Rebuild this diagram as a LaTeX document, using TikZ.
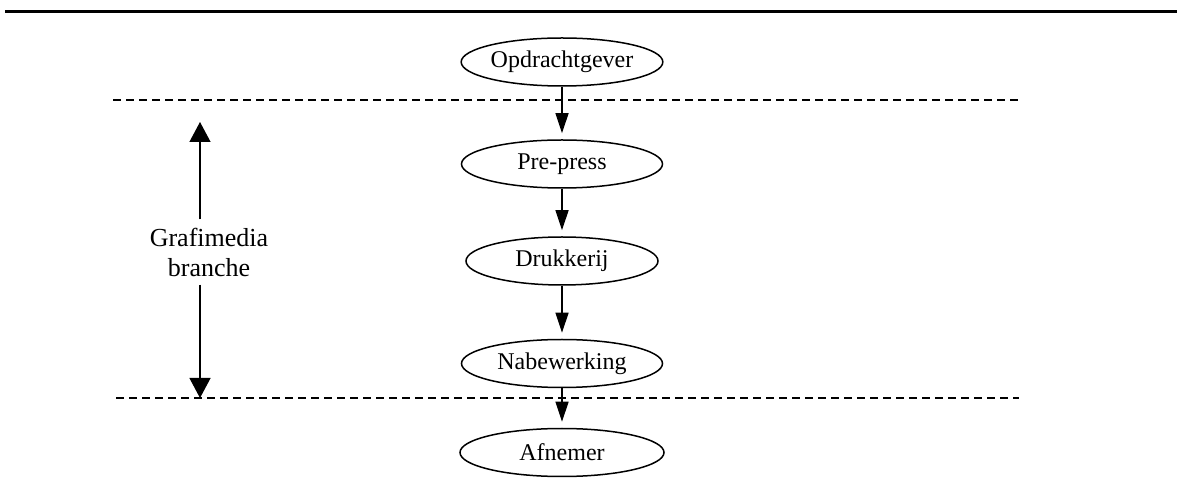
\documentclass[tikz,border=0pt]{standalone}
\usepackage{fontspec}
\setmainfont{Liberation Serif}
\usetikzlibrary{shapes.geometric,arrows.meta}
\tikzset{
  stage/.style={ellipse,draw,line width=.75pt,inner sep=0pt,minimum width=100.5pt,minimum height=24pt,font=\fontsize{12}{14}\selectfont},
  flow/.style={line width=.6pt,-{Triangle[length=10pt,width=6.5pt]},shorten >=3pt},
  border/.style={line width=1pt,dash pattern=on 4pt off 2.5pt}
}
\begin{document}
\begin{tikzpicture}[x=.5pt,y=-.5pt]
\useasboundingbox (0,0) rectangle (1182,485);
\draw[line width=1.5pt] (5,12) -- (1177,12);
\draw[border] (113,100.5) -- (1019,100.5);
\draw[border] (116,398) -- (1019,398);
% stages
\node[stage] (opdr) at (562,62) {Opdrachtgever};
\node[stage] (pre) at (562,164) {Pre-press};
\node[stage,minimum width=96pt] (druk) at (562,261) {Drukkerij};
\node[stage] (nabe) at (562,363.5) {Nabewerking};
\node[stage,minimum width=102pt] (afn) at (562,452.5) {Afnemer};
\draw[flow] (opdr) -- (pre);
\draw[flow] (pre) -- (druk);
\draw[flow] (druk) -- (nabe);
\draw[flow] (nabe) -- (afn);
% branche
\node[align=center,inner sep=4pt,font=\fontsize{13}{15}\selectfont] (gm) at (209,252) {Grafimedia\\branche};
\coordinate (gtop) at (200,122);
\coordinate (gbot) at (200,398);
\draw[line width=.6pt,-{Triangle[length=10pt,width=10.5pt]}] (gtop |- gm.north) -- (gtop);
\draw[line width=.6pt,-{Triangle[length=10pt,width=10.5pt]}] (gbot |- gm.south) -- (gbot);
\end{tikzpicture}
\end{document}
